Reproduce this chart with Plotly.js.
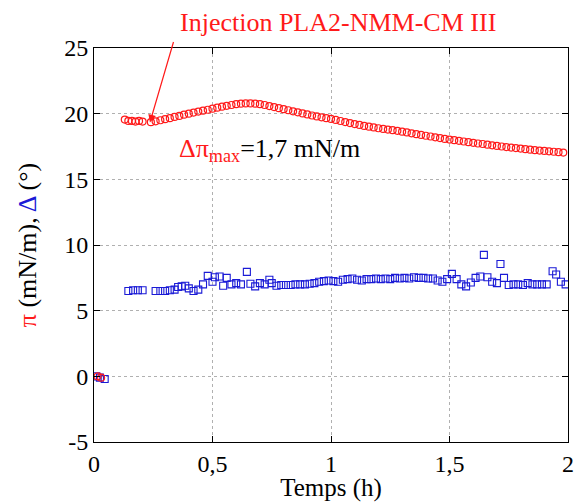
<!DOCTYPE html>
<html>
<head>
<meta charset="utf-8">
<script src="https://cdn.plot.ly/plotly-3.0.1.min.js"></script>
<style>html,body{margin:0;padding:0;background:#fff;}#chart{width:574px;height:502px;}</style>
</head>
<body>
<div id="chart"></div>
<script>
// Surface pressure pi (mN/m), red circles
const piTime = [0.015, 0.03, 0.13, 0.145, 0.16, 0.175, 0.19, 0.205,
  0.24, 0.26, 0.28, 0.30, 0.32, 0.34, 0.36, 0.38, 0.40, 0.42, 0.44, 0.46, 0.48, 0.50,
  0.52, 0.54, 0.56, 0.58, 0.60, 0.62, 0.64, 0.66, 0.68, 0.70, 0.72, 0.74, 0.76, 0.78, 0.80,
  0.82, 0.84, 0.86, 0.88, 0.90, 0.92, 0.94, 0.96, 0.98, 1.00, 1.02, 1.04, 1.06, 1.08, 1.10,
  1.12, 1.14, 1.16, 1.18, 1.20, 1.22, 1.24, 1.26, 1.28, 1.30, 1.32, 1.34, 1.36, 1.38, 1.40,
  1.42, 1.44, 1.46, 1.48, 1.50, 1.52, 1.54, 1.56, 1.58, 1.60, 1.62, 1.64, 1.66, 1.68, 1.70,
  1.72, 1.74, 1.76, 1.78, 1.80, 1.82, 1.84, 1.86, 1.88, 1.90, 1.92, 1.94, 1.96, 1.98];
const piValues = [0.0, -0.1, 19.55, 19.45, 19.45, 19.4, 19.45, 19.4,
  19.35, 19.42, 19.5, 19.58, 19.66, 19.75, 19.83, 19.92, 20.0, 20.08, 20.16, 20.23, 20.3, 20.38,
  20.46, 20.53, 20.6, 20.66, 20.72, 20.76, 20.78, 20.78, 20.76, 20.72, 20.66, 20.58, 20.5, 20.42, 20.34,
  20.26, 20.18, 20.1, 20.02, 19.94, 19.86, 19.79, 19.72, 19.66, 19.6, 19.52, 19.44, 19.36, 19.28, 19.21,
  19.14, 19.07, 19.01, 18.95, 18.89, 18.84, 18.79, 18.74, 18.69, 18.63, 18.57, 18.5, 18.44, 18.38, 18.32,
  18.26, 18.2, 18.14, 18.08, 18.03, 17.98, 17.93, 17.88, 17.83, 17.78, 17.73, 17.69, 17.64, 17.59, 17.54,
  17.5, 17.46, 17.42, 17.38, 17.34, 17.3, 17.26, 17.22, 17.19, 17.16, 17.13, 17.1, 17.07, 17.04];

// Ellipsometric angle Delta (deg), blue squares
const deltaTime = [0.01, 0.025, 0.045, 0.145, 0.165, 0.185, 0.205, 0.26, 0.28, 0.30, 0.32, 0.34,
  0.355, 0.37, 0.385, 0.40, 0.42, 0.44, 0.46, 0.48, 0.50, 0.51, 0.53, 0.545, 0.56, 0.58, 0.60,
  0.62, 0.645, 0.66, 0.68, 0.70, 0.72, 0.74, 0.75, 0.77, 0.79, 0.81, 0.83, 0.85, 0.87, 0.89,
  0.91, 0.93, 0.95, 0.97, 0.99, 1.01, 1.03, 1.05, 1.07, 1.09, 1.11, 1.13, 1.15, 1.17, 1.19,
  1.21, 1.23, 1.25, 1.27, 1.29, 1.31, 1.33, 1.35, 1.37, 1.39, 1.41, 1.43, 1.45, 1.47, 1.49,
  1.51, 1.53, 1.55, 1.57, 1.59, 1.61, 1.63, 1.645, 1.66, 1.68, 1.70, 1.715, 1.73, 1.75, 1.77,
  1.79, 1.81, 1.83, 1.85, 1.87, 1.89, 1.91, 1.935, 1.95, 1.97, 1.99];
const deltaValues = [0.0, -0.1, -0.2, 6.5, 6.55, 6.55, 6.55, 6.5, 6.5, 6.5, 6.55, 6.6,
  6.8, 6.85, 6.9, 6.7, 6.5, 6.6, 7.0, 7.65, 7.2, 7.55, 7.6, 6.9, 7.5, 7.0, 7.1,
  7.0, 7.95, 7.05, 6.85, 7.1, 7.0, 7.35, 7.1, 6.9, 6.95, 6.95, 6.95, 7.0, 7.0, 7.0,
  7.05, 7.1, 7.2, 7.25, 7.3, 7.25, 7.2, 7.35, 7.4, 7.45, 7.35, 7.3, 7.4, 7.4, 7.45,
  7.4, 7.45, 7.4, 7.5, 7.45, 7.5, 7.45, 7.55, 7.5, 7.5, 7.45, 7.45, 7.3, 7.2, 7.4,
  7.8, 7.4, 7.0, 6.85, 7.15, 7.5, 7.6, 9.25, 7.55, 7.2, 7.1, 8.55, 7.5, 6.95, 7.0,
  7.0, 6.95, 7.1, 7.0, 7.0, 7.0, 7.0, 8.0, 7.75, 7.2, 7.0];

const xTicks = [0, 0.5, 1, 1.5, 2];
const yTicks = [-5, 0, 5, 10, 15, 20, 25];
const yTickLabels = ['-5', '0', '5', '10', '15', '20', '25'];

const SERIF = 'Liberation Serif';
const RED = '#ff1a1a';
const BLUE = '#1a1ad6';

const traces = [
  {x: deltaTime, y: deltaValues, type: 'scatter', mode: 'markers',
   marker: {symbol: 'square-open', size: 7, color: BLUE, line: {width: 1.1}}, showlegend: false},
  {x: piTime, y: piValues, type: 'scatter', mode: 'markers',
   marker: {symbol: 'circle-open', size: 7, color: RED, line: {width: 1.2}}, showlegend: false}
];

function axis(extra) {
  return Object.assign({
    showline: true, linecolor: '#000', linewidth: 1, mirror: 'ticks',
    ticks: 'inside', ticklen: 6, tickcolor: '#000',
    showgrid: true, gridcolor: '#b0b0b0', griddash: 'dot', gridwidth: 1,
    zeroline: false, tickfont: {family: SERIF, size: 24, color: '#000'}
  }, extra);
}

const layout = {
  width: 574, height: 502,
  margin: {l: 94, r: 6, t: 48, b: 60},
  paper_bgcolor: '#fff', plot_bgcolor: '#fff',
  separators: ',.',
  font: {family: SERIF, size: 20},
  xaxis: axis({
    range: [0, 2], tickvals: xTicks,
    title: {text: 'Temps (h)', font: {family: SERIF, size: 25, color: '#000'}, standoff: 0}
  }),
  yaxis: axis({
    range: [-5, 25], tickvals: yTicks, ticktext: yTickLabels,
    title: {text: '<span style="color:' + RED + '">π</span> (mN/m), <span style="color:' + BLUE + '">Δ</span> (°)',
            font: {family: SERIF, size: 26, color: '#000'}, standoff: 20}
  }),
  annotations: [
    {xref: 'paper', yref: 'paper', x: 0.515, y: 1, yshift: 26, xanchor: 'center', yanchor: 'middle',
     text: 'Injection PLA2-NMM-CM III', showarrow: false,
     font: {family: SERIF, size: 26, color: RED}},
    {xref: 'x', yref: 'y', x: 0.236, y: 19.33, text: '', showarrow: true,
     ax: 24, ay: -82, arrowhead: 2, arrowsize: 1.3, arrowwidth: 1.2, arrowcolor: RED},
    {xref: 'x', yref: 'y', x: 0.35, y: 17.25, xanchor: 'left', yanchor: 'middle', showarrow: false,
     text: '<span style="color:' + RED + '">Δπ<sub>max</sub></span>=1,7 mN/m',
     font: {family: SERIF, size: 26, color: '#000'}}
  ]
};

Plotly.newPlot('chart', traces, layout, {displayModeBar: false, staticPlot: true});
</script>
</body>
</html>
